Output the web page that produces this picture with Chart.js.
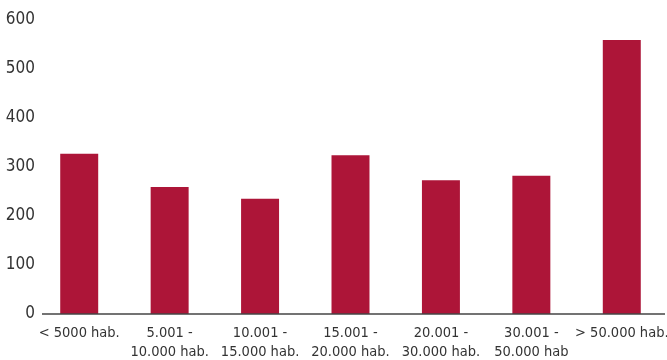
<!DOCTYPE html>
<html>
<head>
<meta charset="utf-8">
<script src="https://cdn.jsdelivr.net/npm/chart.js@4"></script>
<style>
  html, body { margin: 0; padding: 0; background: #fff; }
  .graph-container { width: 667px; height: 360px; }
</style>
</head>
<body>
<div class="graph-container"><canvas id="canvas"></canvas></div>
<script>
let categories = [
    "< 5000 hab.",
    ["5.001 -", "10.000 hab."],
    ["10.001 -", "15.000 hab."],
    ["15.001 -", "20.000 hab."],
    ["20.001 -", "30.000 hab."],
    ["30.001 -", "50.000 hab"],
    "> 50.000 hab."
];
let values = [327, 259, 235, 324, 273, 282, 559];
let yTicks = [0, 100, 200, 300, 400, 500, 600];

let fontFamily = "'Liberation Sans Narrow', 'DejaVu Sans Condensed', sans-serif";
let canvas = document.getElementById("canvas").getContext("2d");

// baseline starts a little right of the "0" label, like the original
let baseline = {
    id: "baseline",
    afterDatasetsDraw(chart) {
        let ctx = chart.ctx;
        let area = chart.chartArea;
        ctx.save();
        ctx.strokeStyle = "#444";
        ctx.lineWidth = 1.5;
        ctx.beginPath();
        ctx.moveTo(area.left + 8, area.bottom);
        ctx.lineTo(area.right - 2, area.bottom);
        ctx.stroke();
        ctx.restore();
    }
};

let chart = new Chart(canvas, {
    type: "bar",
    data: {
        labels: categories,
        datasets: [{
            data: values,
            backgroundColor: "#ad1538",
            barPercentage: 0.42,
            categoryPercentage: 1
        }]
    },
    options: {
        responsive: true,
        maintainAspectRatio: false,
        animation: false,
        layout: {
            padding: { top: 20, right: 0, left: 0, bottom: 0 }
        },
        scales: {
            x: {
                afterFit: (axis) => {
                    axis.height = 46;
                    axis.paddingLeft = 0;
                    axis.paddingRight = 0;
                },
                grid: { display: false },
                border: { display: false },
                ticks: {
                    color: "#333",
                    font: { family: fontFamily, size: 14.5, lineHeight: 1.3 },
                    maxRotation: 0,
                    autoSkip: false,
                    padding: 2
                }
            },
            y: {
                min: 0,
                max: 600,
                afterFit: (axis) => { axis.width = 34; },
                afterBuildTicks: (axis) => { axis.ticks = yTicks.map(v => ({ value: v })); },
                grid: { display: false, drawTicks: false },
                border: { display: false },
                ticks: {
                    color: "#333",
                    font: { family: fontFamily, size: 17 },
                    padding: -1
                }
            }
        },
        plugins: {
            legend: { display: false },
            tooltip: { enabled: false }
        }
    },
    plugins: [baseline]
});
</script>
</body>
</html>
